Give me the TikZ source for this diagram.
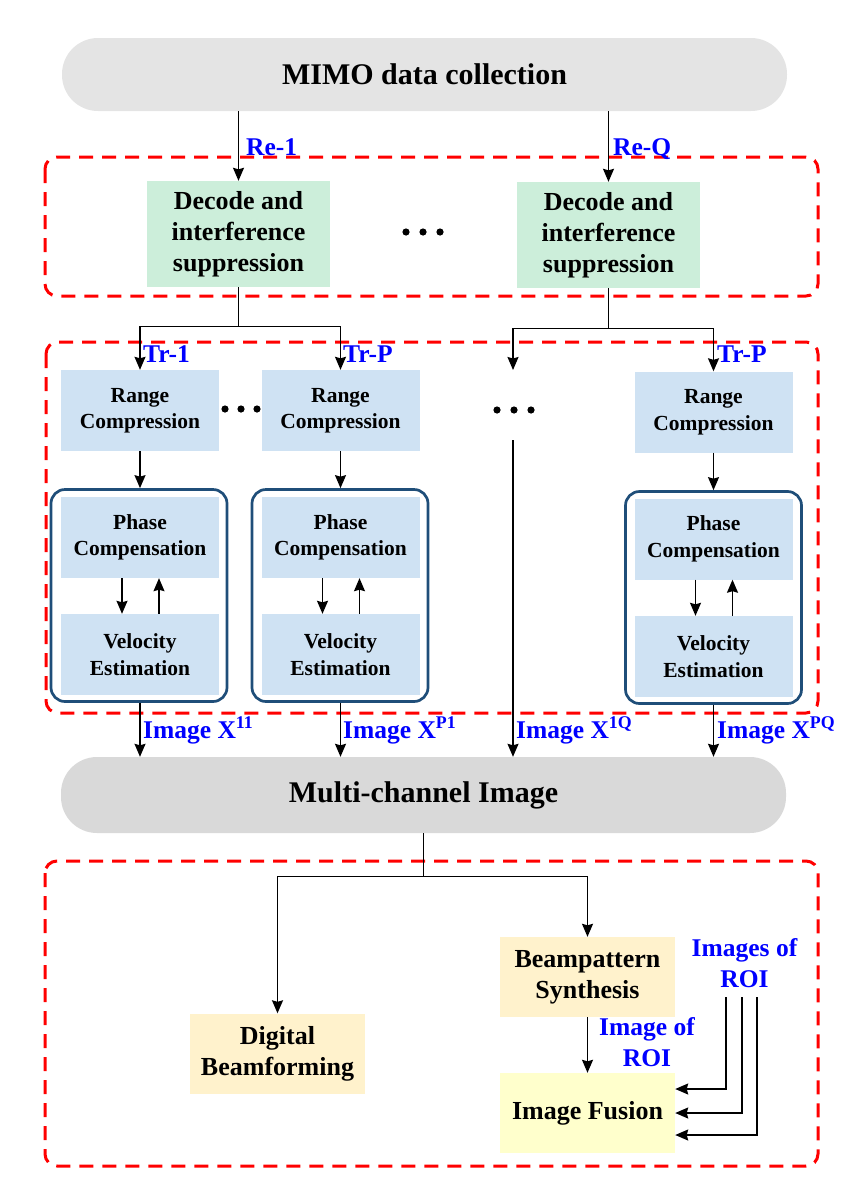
\documentclass[tikz,border=0pt]{standalone}
\usepackage{fontspec}
\setmainfont{Liberation Serif}
\usetikzlibrary{arrows.meta}
\definecolor{grayA}{RGB}{228,228,228}
\definecolor{grayB}{RGB}{217,217,217}
\definecolor{greenbox}{RGB}{204,238,218}
\definecolor{bluebox}{RGB}{207,226,243}
\definecolor{tanbox}{RGB}{255,242,204}
\definecolor{yelbox}{RGB}{255,255,204}
\definecolor{navy}{RGB}{31,78,121}
\definecolor{lblblue}{RGB}{0,0,255}
\definecolor{dashred}{RGB}{255,0,0}
\begin{document}
\begin{tikzpicture}[x=1pt,y=-1pt,
  every node/.style={align=center, inner sep=0pt},
  pill/.style={rounded corners=36pt, minimum width=725pt, font=\bfseries\fontsize{30}{34}\selectfont},
  decbox/.style={fill=greenbox, minimum width=183pt, minimum height=106pt, font=\bfseries\fontsize{26}{31}\selectfont},
  procbox/.style={fill=bluebox, minimum width=158pt, minimum height=81pt, font=\bfseries\fontsize{21.5}{26.5}\selectfont},
  grpbox/.style={draw=navy, line width=2.7pt, rounded corners=14pt, minimum width=176pt, minimum height=212pt},
  outbox/.style={minimum width=175pt, minimum height=80pt, font=\bfseries\fontsize{26}{31}\selectfont},
  lbl/.style={text=lblblue, font=\bfseries\fontsize{25.5}{31}\selectfont},
  region/.style={draw=dashred, line width=3pt, dash pattern=on 14pt off 9pt, rounded corners=12pt},
  arr/.style={line width=1.4pt, -{Stealth[length=13pt, width=11pt, inset=1.5pt]}},
  ln/.style={line width=1.4pt},
  dotmark/.style={fill=black}
]
\useasboundingbox (0,0) rectangle (857,1194);

% dashed regions
\draw[region] (45,157) rectangle (818,296);
\draw[region] (46,342) rectangle (818,713);
\draw[region] (45,861) rectangle (818,1166);

% main nodes
\node[pill, fill=grayA, minimum height=73pt] (mimo) at (424.5,74.5) {MIMO data collection};
\node[decbox] (dec1) at (238.5,234) {Decode and\\interference\\suppression};
\node[decbox] (dec2) at (608.5,235) {Decode and\\interference\\suppression};

\node[procbox] (rng1) at (140,410.5) {Range\\Compression};
\node[procbox] (rng2) at (340.5,410.5) {Range\\Compression};
\node[procbox] (rng3) at (713.5,412) {Range\\Compression};

\node[grpbox] (g1) at (139,595.5) {};
\node[grpbox] (g2) at (340,595.5) {};
\node[grpbox] (g3) at (713.5,597.5) {};

\node[procbox] (ph1) at (140,537.5) {Phase\\Compensation};
\node[procbox] (ve1) at (140,654.5) {Velocity\\Estimation};
\node[procbox] (ph2) at (340.5,537.5) {Phase\\Compensation};
\node[procbox] (ve2) at (340.5,654.5) {Velocity\\Estimation};
\node[procbox] (ph3) at (713.5,539) {Phase\\Compensation};
\node[procbox] (ve3) at (713.5,656.5) {Velocity\\Estimation};

\node[pill, fill=grayB, minimum height=76pt] (multi) at (423.5,795) {Multi-channel Image};

\node[outbox, fill=tanbox] (dbf) at (277.5,1053.5) {Digital\\Beamforming};
\node[outbox, fill=tanbox] (bps) at (587.5,977) {Beampattern\\Synthesis};
\node[outbox, fill=yelbox] (fus) at (587.5,1113) {Image Fusion};

% dots
\foreach \x in {406,423,440} \fill[dotmark] (\x,232) circle (3.6pt);
\foreach \x in {225,241,257} \fill[dotmark] (\x,409) circle (3.6pt);
\foreach \x in {497,514,531} \fill[dotmark] (\x,410) circle (3.6pt);

% top connectors
\draw[arr] (dec1.north |- mimo.south) -- (dec1.north);
\draw[arr] (dec2.north |- mimo.south) -- (dec2.north);

\draw[ln] (dec1.south) -- ++(0,39) coordinate (b1);
\draw[arr] (b1) -| (rng1.north);
\draw[arr] (b1) -| (rng2.north);

\coordinate (m1) at (513,370);
\coordinate (m2) at (513,440);
\draw[ln] (dec2.south) -- ++(0,40) coordinate (b2);
\draw[arr] (b2) -| (m1);
\draw[arr] (b2) -| (rng3.north);

% range -> group
\draw[arr] (rng1.south) -- (rng1.south |- g1.north);
\draw[arr] (rng2.south) -- (rng2.south |- g2.north);
\draw[arr] (rng3.south) -- (rng3.south |- g3.north);

% phase <-> velocity
\draw[arr] ([xshift=-18pt]ph1.south) -- ([xshift=-18pt]ve1.north);
\draw[arr] ([xshift=19pt]ve1.north) -- ([xshift=19pt]ph1.south);
\draw[arr] ([xshift=-18pt]ph2.south) -- ([xshift=-18pt]ve2.north);
\draw[arr] ([xshift=19pt]ve2.north) -- ([xshift=19pt]ph2.south);
\draw[arr] ([xshift=-18pt]ph3.south) -- ([xshift=-18pt]ve3.north);
\draw[arr] ([xshift=19pt]ve3.north) -- ([xshift=19pt]ph3.south);

% group -> multi
\draw[arr] (rng1.south |- g1.south) -- (rng1.south |- multi.north);
\draw[arr] (rng2.south |- g2.south) -- (rng2.south |- multi.north);
\draw[arr] (m2) -- (m2 |- multi.north);
\draw[arr] (rng3.south |- g3.south) -- (rng3.south |- multi.north);

% bottom
\draw[ln] (multi.south) -- ++(0,43) coordinate (b3);
\draw[arr] (b3) -| (dbf.north);
\draw[arr] (b3) -| (bps.north);
\draw[arr] (bps.south) -- (fus.north);

\coordinate (r1) at (726,997);
\coordinate (r2) at (742,997);
\coordinate (r3) at (757,997);
\draw[arr] (r1) |- ([yshift=24pt]fus.east);
\draw[arr] (r2) |- (fus.east);
\draw[arr] (r3) |- ([yshift=-22pt]fus.east);

% labels
\node[lbl, anchor=base west] (lre1) at (246,155) {Re-1};
\node[lbl, anchor=base west] (lreq) at (613,155) {Re-Q};
\node[lbl, anchor=base west] (ltr1) at (143,362) {Tr-1};
\node[lbl, anchor=base west] (ltrp) at (343,362) {Tr-P};
\node[lbl, anchor=base west] (ltrp2) at (717,362) {Tr-P};
\node[lbl, anchor=base west] (li1) at (143,738) {Image X\textsuperscript{11}};
\node[lbl, anchor=base west] (li2) at (343,738) {Image X\textsuperscript{P1}};
\node[lbl, anchor=base west] (li3) at (516,738) {Image X\textsuperscript{1Q}};
\node[lbl, anchor=base west] (li4) at (717,738) {Image X\textsuperscript{PQ}};
\node[lbl] (lroi) at (647,1042.5) {Image of\\ROI};
\node[lbl] (lrois) at (744.5,963.5) {Images of\\ROI};
\end{tikzpicture}
\end{document}
